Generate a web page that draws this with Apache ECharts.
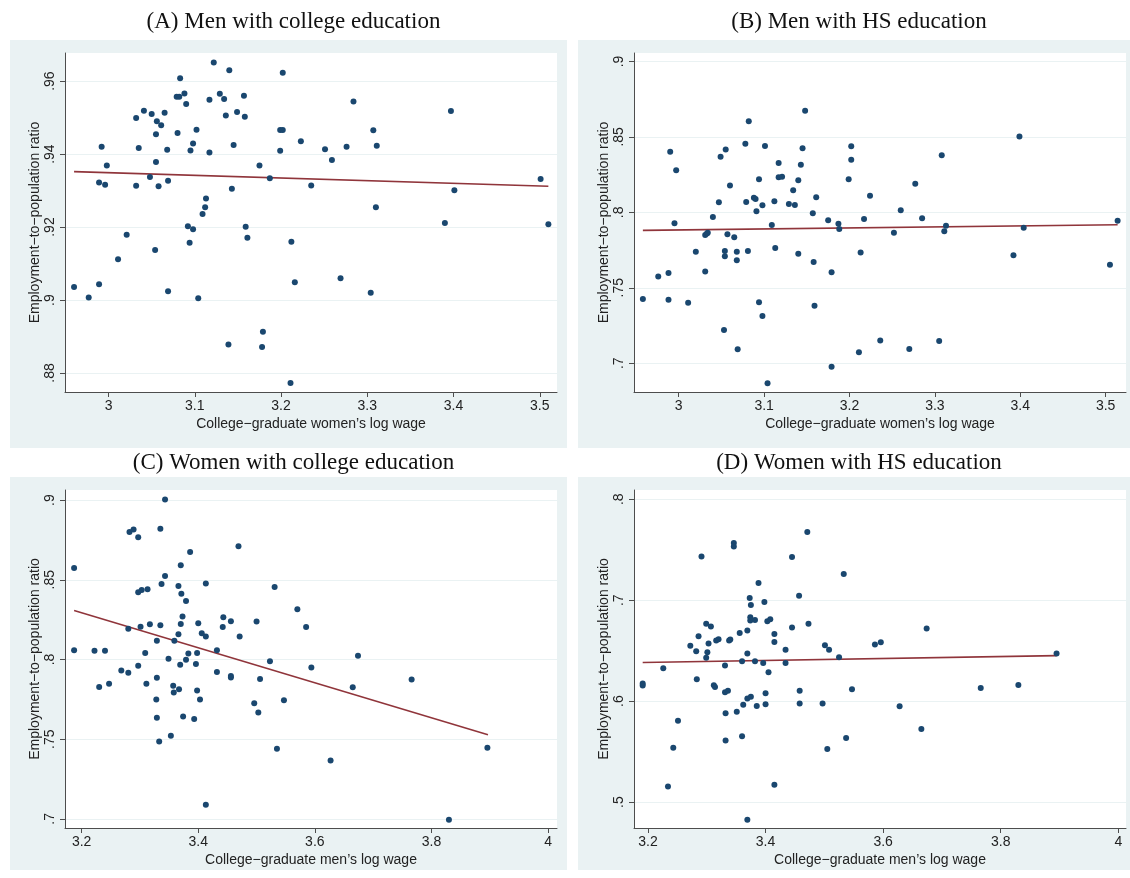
<!DOCTYPE html>
<html>
<head>
<meta charset="utf-8">
<script src="https://cdn.jsdelivr.net/npm/echarts@6/dist/echarts.min.js"></script>
<style>
  html, body { margin: 0; padding: 0; background: #fff; }
  #main { width: 1130px; height: 878px; }
</style>
</head>
<body>
<div id="main"></div>
<script>
// panel titles and axis names
const panelTitles = [
  '(A) Men with college education',
  '(B) Men with HS education',
  '(C) Women with college education',
  '(D) Women with HS education'
]
const yName = 'Employment\u2212to\u2212population ratio'
const xNameTop = 'College\u2212graduate women\u2019s log wage'
const xNameBottom = 'College\u2212graduate men\u2019s log wage'

// tick labels
const xTicksTop = [3, 3.1, 3.2, 3.3, 3.4, 3.5]
const xTicksBottom = [3.2, 3.4, 3.6, 3.8, 4]
const yTicksA = [0.88, 0.9, 0.92, 0.94, 0.96]
const yTicksB = [0.7, 0.75, 0.8, 0.85, 0.9]
const yTicksC = [0.7, 0.75, 0.8, 0.85, 0.9]
const yTicksD = [0.5, 0.6, 0.7, 0.8]

// (A) men with college education vs women's log wage
const menCollege = [
  [3.122, .9651], [3.140, .9630], [3.202, .9623], [3.083, .9608], [3.088, .9566], [3.079, .9557],
  [3.082, .9557], [3.090, .9537], [3.129, .9565], [3.134, .9551], [3.117, .9549], [3.157, .9560],
  [3.158, .9502], [3.149, .9515], [3.136, .9506], [3.041, .9519], [3.050, .9510], [3.032, .9499],
  [3.065, .9513], [3.056, .9490], [3.061, .9479], [3.055, .9454], [3.080, .9458], [3.102, .9467],
  [3.098, .9429], [3.095, .9410], [3.117, .9404], [3.145, .9425], [3.199, .9466], [3.202, .9466],
  [3.199, .9409], [3.223, .9435], [2.992, .9420], [3.035, .9417], [3.068, .9412], [2.998, .9369],
  [3.055, .9378], [3.048, .9337], [2.989, .9322], [2.996, .9316], [3.032, .9313], [3.058, .9312],
  [3.069, .9327], [3.175, .9369], [3.187, .9334], [3.143, .9305], [3.113, .9278], [3.112, .9254],
  [3.109, .9236], [3.092, .9202], [3.098, .9194], [3.159, .9201], [3.284, .9544], [3.397, .9518],
  [3.251, .9413], [3.259, .9384], [3.276, .9420], [3.307, .9465], [3.311, .9423], [3.235, .9314],
  [3.401, .9301], [3.501, .9332], [3.310, .9254], [3.390, .9211], [3.510, .9208], [3.021, .9179],
  [3.094, .9157], [3.161, .9171], [3.212, .9160], [3.054, .9137], [3.011, .9112], [2.960, .9036],
  [2.977, .9007], [2.989, .9043], [3.069, .9024], [3.104, .9005], [3.216, .9049], [3.139, .8878],
  [3.179, .8913], [3.178, .8871], [3.211, .8773], [3.269, .9060], [3.304, .9020]
]
const fitA = [[2.96, .9352], [3.51, .9312]]

// (B) men with HS education vs women's log wage
const menHS = [
  [3.148, .8673], [3.082, .8604], [2.990, .8402], [2.997, .8279], [3.049, .8369], [3.055, .8416],
  [3.078, .8454], [3.101, .8440], [3.145, .8425], [3.202, .8438], [3.202, .8349], [3.117, .8327],
  [3.143, .8316], [3.117, .8232], [3.121, .8236], [3.094, .8219], [3.140, .8212], [3.199, .8219],
  [3.060, .8177], [3.134, .8146], [3.088, .8097], [3.090, .8088], [3.047, .8066], [3.079, .8068],
  [3.112, .8073], [3.161, .8100], [3.091, .8007], [3.098, .8047], [3.129, .8055], [3.136, .8048],
  [3.157, .7993], [2.995, .7927], [3.040, .7969], [3.109, .7916], [3.175, .7947], [3.187, .7924],
  [3.217, .7955], [3.399, .8502], [3.308, .8378], [3.277, .8190], [3.224, .8110], [3.260, .8013],
  [3.285, .7960], [3.313, .7911], [3.404, .7898], [3.514, .7944], [3.188, .7889], [3.031, .7849],
  [3.033, .7860], [3.034, .7864], [3.057, .7854], [3.065, .7834], [3.020, .7738], [3.054, .7743],
  [3.054, .7708], [3.068, .7738], [3.068, .7683], [3.081, .7743], [3.113, .7763], [3.140, .7725],
  [3.158, .7670], [3.179, .7602], [3.213, .7734], [2.976, .7575], [2.988, .7597], [3.031, .7608],
  [2.958, .7426], [2.988, .7420], [3.011, .7400], [3.094, .7404], [3.098, .7313], [3.159, .7380],
  [3.053, .7220], [3.069, .7092], [3.211, .7072], [3.179, .6977], [3.104, .6867], [3.252, .7865],
  [3.311, .7874], [3.392, .7715], [3.505, .7652], [3.236, .7150], [3.270, .7094], [3.305, .7147]
]
const fitB = [[2.958, .7880], [3.514, .7918]]

// (C) women with college education vs men's log wage
const womenCollege = [
  [3.343, .9004], [3.282, .8800], [3.289, .8816], [3.297, .8766], [3.335, .8820], [3.386, .8674],
  [3.469, .8710], [3.187, .8574], [3.370, .8591], [3.343, .8524], [3.337, .8474], [3.413, .8476],
  [3.297, .8422], [3.303, .8436], [3.313, .8440], [3.366, .8461], [3.371, .8413], [3.379, .8367],
  [3.531, .8455], [3.570, .8315], [3.280, .8192], [3.301, .8206], [3.317, .8221], [3.335, .8215],
  [3.373, .8269], [3.370, .8223], [3.400, .8227], [3.443, .8265], [3.442, .8204], [3.456, .8240],
  [3.500, .8238], [3.585, .8204], [3.406, .8165], [3.413, .8144], [3.366, .8158], [3.471, .8144],
  [3.329, .8117], [3.359, .8117], [3.187, .8058], [3.222, .8054], [3.240, .8054], [3.309, .8040],
  [3.383, .8037], [3.398, .8040], [3.432, .8058], [3.349, .8004], [3.379, .7998], [3.369, .7967],
  [3.396, .7972], [3.523, .7989], [3.297, .7960], [3.268, .7931], [3.280, .7916], [3.432, .7922],
  [3.456, .7897], [3.456, .7887], [3.506, .7878], [3.329, .7885], [3.230, .7828], [3.247, .7847],
  [3.311, .7847], [3.357, .7835], [3.358, .7793], [3.367, .7814], [3.398, .7805], [3.403, .7749],
  [3.328, .7749], [3.496, .7726], [3.503, .7667], [3.547, .7745], [3.329, .7634], [3.374, .7642],
  [3.393, .7626], [3.353, .7521], [3.333, .7486], [3.535, .7440], [3.413, .7089], [3.594, .7949],
  [3.674, .8023], [3.665, .7826], [3.766, .7874], [3.627, .7367], [3.896, .7446], [3.830, .6995]
]
const fitC = [[3.187, .8307], [3.897, .7528]]

// (D) women with HS education vs men's log wage
const womenHS = [
  [3.471, .7676], [3.346, .7567], [3.346, .7531], [3.291, .7432], [3.445, .7429], [3.533, .7260],
  [3.388, .7171], [3.457, .7043], [3.373, .7023], [3.398, .6983], [3.375, .6953], [3.374, .6832],
  [3.374, .6798], [3.382, .6805], [3.403, .6792], [3.408, .6812], [3.299, .6768], [3.307, .6739],
  [3.473, .6768], [3.445, .6729], [3.369, .6699], [3.356, .6676], [3.415, .6666], [3.286, .6644],
  [3.316, .6600], [3.320, .6614], [3.338, .6600], [3.340, .6610], [3.415, .6587], [3.303, .6570],
  [3.272, .6550], [3.501, .6554], [3.508, .6508], [3.282, .6495], [3.301, .6485], [3.434, .6508],
  [3.369, .6471], [3.525, .6436], [3.299, .6429], [3.360, .6396], [3.382, .6396], [3.396, .6379],
  [3.434, .6379], [3.331, .6353], [3.226, .6327], [3.405, .6287], [3.283, .6218], [3.191, .6175],
  [3.191, .6155], [3.312, .6158], [3.314, .6139], [3.547, .6119], [3.331, .6089], [3.336, .6102],
  [3.400, .6079], [3.458, .6102], [3.375, .6043], [3.369, .6026], [3.362, .5963], [3.385, .5953],
  [3.400, .5970], [3.458, .5976], [3.497, .5976], [3.351, .5894], [3.332, .5881], [3.251, .5805],
  [3.360, .5653], [3.332, .5610], [3.537, .5634], [3.505, .5525], [3.243, .5538], [3.234, .5154],
  [3.415, .5171], [3.369, .4825], [3.586, .6560], [3.596, .6584], [3.674, .6719], [3.895, .6471],
  [3.766, .6129], [3.830, .6161], [3.628, .5950], [3.665, .5723]
]
const fitD = [[3.191, .6383], [3.895, .6451]]

const dotColor = '#1a476f'
const fitColor = '#90353b'
const bgColor = '#eaf2f3'
const axisColor = '#4d4d4d'

const fmt = v => String(+v.toFixed(3)).replace(/^0\./, '.')

let panels = [
  { box: [10, 40, 557, 408], grid: [65, 53, 492, 339], xr: [2.9495, 3.520], yr: [.8748, .9677], xt: xTicksTop, yt: yTicksA, xn: xNameTop, dots: menCollege, fit: fitA },
  { box: [578, 40, 552, 408], grid: [634, 53, 492, 339], xr: [2.9476, 3.5238], yr: [.6809, .9056], xt: xTicksTop, yt: yTicksB, xn: xNameTop, dots: menHS, fit: fitB },
  { box: [10, 477, 557, 393], grid: [65, 490, 492, 338], xr: [3.1714, 4.0154], yr: [.6943, .9063], xt: xTicksBottom, yt: yTicksC, xn: xNameBottom, dots: womenCollege, fit: fitC },
  { box: [578, 477, 552, 393], grid: [634, 490, 492, 338], xr: [3.1762, 4.0131], yr: [.4743, .8092], xt: xTicksBottom, yt: yTicksD, xn: xNameBottom, dots: womenHS, fit: fitD }
]

let chart = echarts.init(document.getElementById('main'), null, { renderer: 'canvas' })

chart.setOption({
  animation: false,
  backgroundColor: '#fff',
  title: panels.map((p, i) => ({
    text: panelTitles[i],
    left: p.box[0] + p.box[2] / 2,
    top: p.box[1] - (i < 2 ? 35 : 31),
    textAlign: 'center',
    textStyle: { fontFamily: 'Liberation Serif', fontSize: 23, fontWeight: 'normal', color: '#111' }
  })),
  graphic: panels.map(p => ({
    type: 'rect',
    silent: true,
    z: -10,
    shape: { x: p.box[0], y: p.box[1], width: p.box[2], height: p.box[3] },
    style: { fill: bgColor }
  })),
  grid: panels.map(p => ({
    left: p.grid[0], top: p.grid[1], width: p.grid[2], height: p.grid[3],
    show: true, backgroundColor: '#fff', borderWidth: 0
  })),
  xAxis: panels.map((p, i) => ({
    type: 'value',
    gridIndex: i,
    min: p.xr[0],
    max: p.xr[1],
    name: p.xn,
    nameLocation: 'middle',
    nameGap: 25,
    nameTextStyle: { fontFamily: 'Liberation Sans', fontSize: 14, color: '#222' },
    axisLine: { show: true, onZero: false, lineStyle: { color: axisColor, width: 1 } },
    axisTick: { show: true, length: 5, customValues: p.xt, lineStyle: { color: axisColor } },
    axisLabel: { customValues: p.xt, formatter: fmt, margin: 7, fontFamily: 'Liberation Sans', fontSize: 14, color: '#222' },
    splitLine: { show: false }
  })),
  yAxis: panels.map((p, i) => ({
    type: 'value',
    gridIndex: i,
    min: p.yr[0],
    max: p.yr[1],
    name: yName,
    nameLocation: 'middle',
    nameGap: 22,
    nameTextStyle: { fontFamily: 'Liberation Sans', fontSize: 14, color: '#222' },
    axisLine: { show: true, onZero: false, lineStyle: { color: axisColor, width: 1 } },
    axisTick: { show: true, length: 5, customValues: p.yt, lineStyle: { color: axisColor } },
    axisLabel: { customValues: p.yt, formatter: fmt, rotate: 90, margin: 8, fontFamily: 'Liberation Sans', fontSize: 14, color: '#222' },
    splitLine: { show: true, lineStyle: { color: bgColor, width: 1 } }
  })),
  series: panels.flatMap((p, i) => [
    {
      type: 'scatter',
      xAxisIndex: i,
      yAxisIndex: i,
      data: p.dots,
      symbolSize: 6,
      itemStyle: { color: dotColor, opacity: 1 },
      z: 3
    },
    {
      type: 'line',
      xAxisIndex: i,
      yAxisIndex: i,
      data: p.fit,
      showSymbol: false,
      lineStyle: { color: fitColor, width: 1.6 },
      z: 2
    }
  ])
})
</script>
</body>
</html>
